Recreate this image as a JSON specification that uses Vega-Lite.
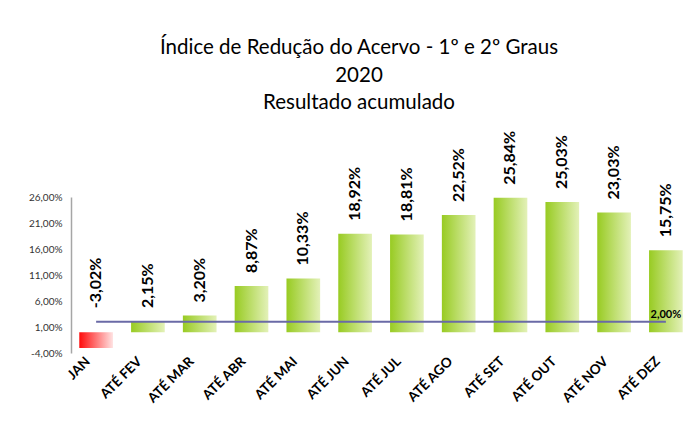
{
  "$schema": "https://vega.github.io/schema/vega-lite/v6.json",
  "width": 620,
  "height": 156,
  "autosize": {"type": "none"},
  "padding": {"left": 71, "top": 197, "right": 2, "bottom": 68},
  "background": "white",
  "config": {
    "locale": {"number": {"decimal": ",", "thousands": ".", "grouping": [3], "currency": ["R$", ""], "minus": "-"}},
    "view": {"stroke": null},
    "font": "Lato"
  },
  "title": {
    "text": ["Índice de Redução do Acervo - 1º e 2º Graus", "2020", "Resultado acumulado"],
    "font": "Lato",
    "fontSize": 20.5,
    "fontWeight": "normal",
    "lineHeight": 27.5,
    "color": "#000000",
    "anchor": "middle",
    "frame": "group",
    "offset": 17,
    "dx": -22
  },
  "data": {
    "values": [
      {"month": "JAN", "v": -0.0302},
      {"month": "ATÉ FEV", "v": 0.0215},
      {"month": "ATÉ MAR", "v": 0.032},
      {"month": "ATÉ ABR", "v": 0.0887},
      {"month": "ATÉ MAI", "v": 0.1033},
      {"month": "ATÉ JUN", "v": 0.1892},
      {"month": "ATÉ JUL", "v": 0.1881},
      {"month": "ATÉ AGO", "v": 0.2252},
      {"month": "ATÉ SET", "v": 0.2584},
      {"month": "ATÉ OUT", "v": 0.2503},
      {"month": "ATÉ NOV", "v": 0.2303},
      {"month": "ATÉ DEZ", "v": 0.1575}
    ]
  },
  "encoding": {
    "x": {
      "field": "month",
      "type": "nominal",
      "sort": null,
      "scale": {
        "domain": ["JAN", "ATÉ FEV", "ATÉ MAR", "ATÉ ABR", "ATÉ MAI", "ATÉ JUN", "ATÉ JUL", "ATÉ AGO", "ATÉ SET", "ATÉ OUT", "ATÉ NOV", "ATÉ DEZ"],
        "paddingInner": 0.35,
        "paddingOuter": 0.16
      },
      "axis": {
        "title": null,
        "domain": false,
        "ticks": false,
        "labelAngle": -45,
        "labelAlign": "right",
        "labelBaseline": "middle",
        "labelPadding": 6,
        "labelOffset": -8,
        "labelFont": "Lato",
        "labelFontWeight": "bold",
        "labelFontSize": 13.5,
        "labelColor": "#000000"
      }
    }
  },
  "layer": [
    {
      "transform": [{"filter": "datum.v >= 0"}],
      "mark": {
        "type": "bar",
        "color": {
          "gradient": "linear", "x1": 0, "y1": 0, "x2": 1, "y2": 0,
          "stops": [
            {"offset": 0, "color": "#98cb22"},
            {"offset": 1, "color": "#e3f1b8"}
          ]
        }
      },
      "encoding": {
        "y": {
          "field": "v",
          "type": "quantitative",
          "scale": {"domain": [-0.04, 0.26], "nice": false},
          "axis": {
            "title": null,
            "values": [-0.04, 0.01, 0.06, 0.11, 0.16, 0.21, 0.26],
            "tickCount": 20,
            "format": ".2%",
            "grid": false,
            "ticks": false,
            "labelOverlap": false,
            "domainColor": "#a6a6a6",
            "domainWidth": 1.5,
            "labelPadding": 9,
            "labelFont": "Lato",
            "labelFontSize": 10,
            "labelColor": "#333333"
          }
        }
      }
    },
    {
      "transform": [{"filter": "datum.v < 0"}],
      "mark": {
        "type": "bar",
        "color": {
          "gradient": "linear", "x1": 0, "y1": 0, "x2": 1, "y2": 0,
          "stops": [
            {"offset": 0, "color": "#ff0a0a"},
            {"offset": 1, "color": "#ffe2e2"}
          ]
        }
      },
      "encoding": {
        "y": {"field": "v", "type": "quantitative"}
      }
    },
    {
      "mark": {"type": "rule", "color": "#9a9a9a", "strokeWidth": 1.5},
      "encoding": {"y": {"datum": 0}}
    },
    {
      "mark": {"type": "line", "color": "#6a6aa6", "strokeWidth": 2},
      "encoding": {"y": {"datum": 0.02}}
    },
    {
      "transform": [{"filter": "datum.v >= 0"}],
      "mark": {"type": "text", "angle": 270, "align": "left", "baseline": "middle", "dx": 13, "font": "Lato", "fontWeight": "bold", "fontSize": 16, "color": "#000000"},
      "encoding": {
        "y": {"field": "v", "type": "quantitative"},
        "text": {"field": "v", "type": "quantitative", "format": ".2%"}
      }
    },
    {
      "transform": [{"filter": "datum.v < 0"}],
      "mark": {"type": "text", "angle": 270, "align": "left", "baseline": "middle", "dx": 24, "font": "Lato", "fontWeight": "bold", "fontSize": 16, "color": "#000000"},
      "encoding": {
        "y": {"datum": 0},
        "text": {"field": "v", "type": "quantitative", "format": ".2%"}
      }
    },
    {
      "transform": [{"filter": "datum.month == 'ATÉ DEZ'"}],
      "mark": {"type": "text", "align": "center", "baseline": "bottom", "dy": -2, "font": "Lato", "fontWeight": "bold", "fontSize": 11, "color": "#000000", "text": "2,00%"},
      "encoding": {
        "y": {"datum": 0.02}
      }
    }
  ]
}
